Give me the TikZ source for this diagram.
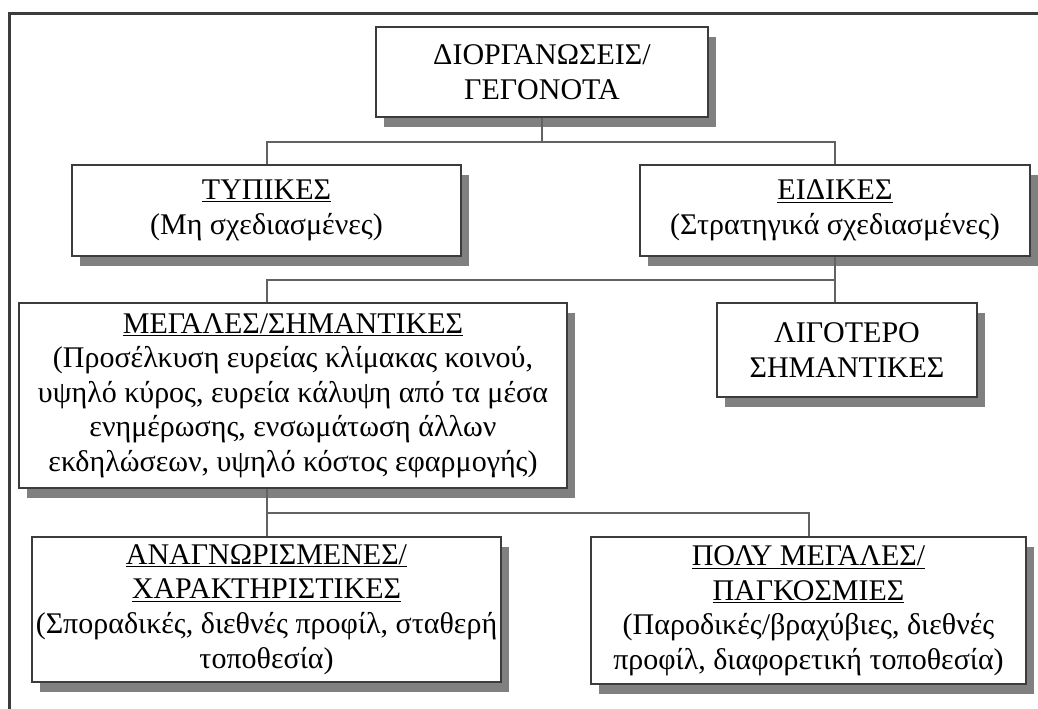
\documentclass[tikz,border=0pt]{standalone}
\usepackage{fontspec}
\setmainfont{Liberation Serif}
\usetikzlibrary{shadows, positioning}
\definecolor{boxline}{HTML}{3C3C3C}
\definecolor{connline}{HTML}{626262}
\definecolor{shadowgray}{HTML}{808080}
\newcommand{\hd}[1]{\underline{#1}}
\tikzset{
    orgbox/.style args={#1 #2}{
        draw=boxline, line width=1.5pt, fill=white, inner sep=0pt,
        align=center, minimum width=#1, minimum height=#2,
        font=\fontsize{22.5pt}{25.9pt}\selectfont,
        drop shadow={shadow xshift=6pt, shadow yshift=-7.5pt, fill=shadowgray, opacity=1}
    },
    orgbox/.default={200pt 60pt},
    conn/.style={draw=connline, line width=1.5pt},
    frame/.style={draw=boxline, line width=2.25pt}
}
\begin{document}
\begin{tikzpicture}[x=0.75pt, y=-0.75pt]
    \useasboundingbox (0,0) rectangle (1038,709);
    \draw[frame] (1038,14) -| (9,709);
    \node[orgbox={249pt 67.5pt}] (n1) at (542, 72) {ΔΙΟΡΓΑΝΩΣΕΙΣ/\\ΓΕΓΟΝΟΤΑ};
    \node[orgbox={291.75pt 68.25pt}] (n2) at (266.5, 210.5) {\hd{ΤΥΠΙΚΕΣ}\\(Μη σχεδιασμένες)};
    \node[orgbox={292.5pt 68.25pt}] (n3) at (835, 210.5) {\hd{ΕΙΔΙΚΕΣ}\\(Στρατηγικά σχεδιασμένες)};
    \node[orgbox={411pt 138.75pt}] (n4) at (293, 395.5) {\hd{ΜΕΓΑΛΕΣ/ΣΗΜΑΝΤΙΚΕΣ}\\(Προσέλκυση ευρείας κλίμακας κοινού,\\υψηλό κύρος, ευρεία κάλυψη από τα μέσα\\ενημέρωσης, ενσωμάτωση άλλων\\εκδηλώσεων, υψηλό κόστος εφαρμογής)};
    \node[orgbox={195pt 70.5pt}] (n5) at (847, 350) {ΛΙΓΟΤΕΡΟ\\ΣΗΜΑΝΤΙΚΕΣ};
    \node[orgbox={351.75pt 108.75pt}] (n6) at (266.5, 609.5) {\hd{ΑΝΑΓΝΩΡΙΣΜΕΝΕΣ/}\\\hd{ΧΑΡΑΚΤΗΡΙΣΤΙΚΕΣ}\\(Σποραδικές, διεθνές προφίλ, σταθερή\\τοποθεσία)};
    \node[orgbox={326.25pt 110.6pt}] (n7) at (808.5, 610.75) {\hd{ΠΟΛΥ ΜΕΓΑΛΕΣ/}\\\hd{ΠΑΓΚΟΣΜΙΕΣ}\\(Παροδικές/βραχύβιες, διεθνές\\προφίλ, διαφορετική τοποθεσία)};
    \coordinate (j1) at (542, 142);
    \coordinate (j2) at (835, 280);
    \coordinate (j3) at (266.5, 513);
    \draw[conn] (n1.south) -- (j1);
    \draw[conn] (n2.north) |- (j1) -| (n3.north);
    \draw[conn] (n3.south) -- (n3.south |- n5.north);
    \draw[conn] (j2) -| (n2.south |- n4.north);
    \draw[conn] (n6.north |- n4.south) -- (n6.north);
    \draw[conn] (j3) -| (n7.north);
\end{tikzpicture}
\end{document}
